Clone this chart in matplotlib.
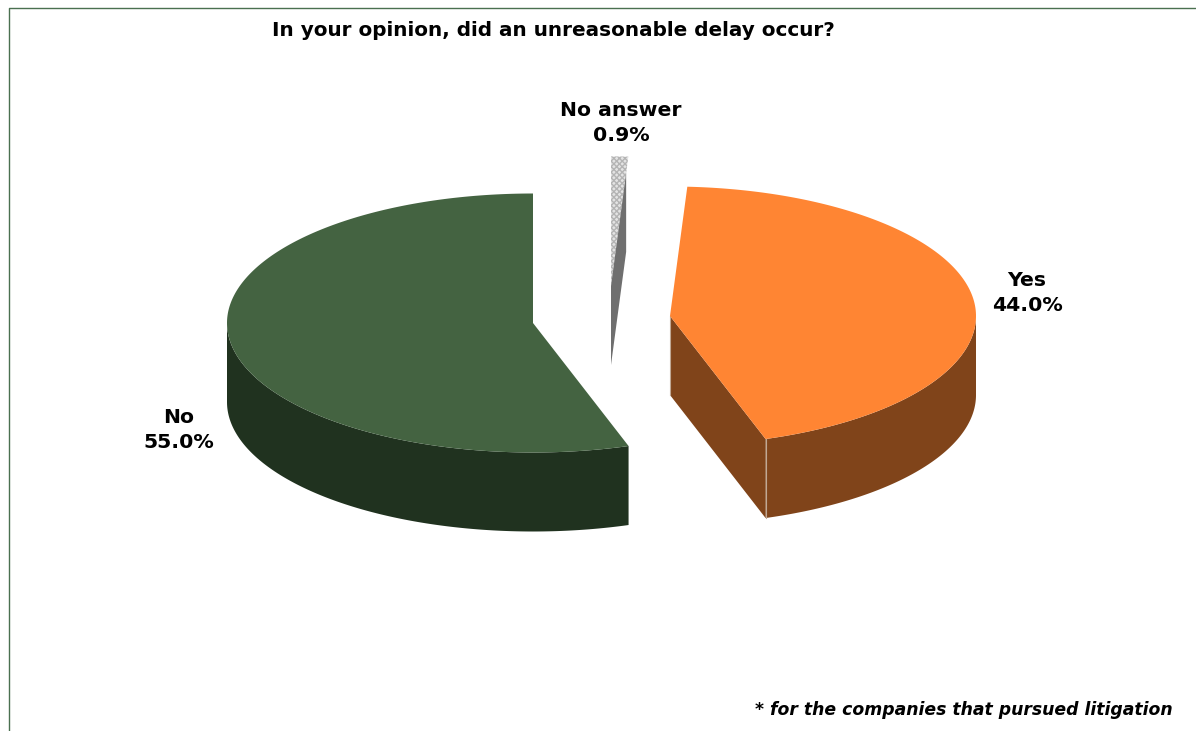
import matplotlib
matplotlib.use('Agg')
import matplotlib.pyplot as plt
import numpy as np

labels = ['No answer', 'Yes', 'No']
values = [0.9, 44.0, 55.0]
colors_top = ['#e4e4e4', '#ff8533', '#446341']
colors_side = ['#6f6f6f', '#80441a', '#20321f']

title = 'In your opinion, did an unreasonable delay occur?'
note = '* for the companies that pursued litigation'

# layout in pixels of the output image
centers = [(611, 286), (670, 316), (533, 323)]
rx, ry, depth = 306, 129.5, 79
label_pos = [(621, 123), (1027, 293), (179, 430)]


def rim(cx, cy, a0, a1, dy=0, frac=1.0):
    # angles are clockwise from 12 o'clock
    t = np.radians(np.linspace(a0, a1, 200))
    return np.column_stack([cx + frac * rx * np.sin(t), cy - frac * ry * np.cos(t) + dy])


fig = plt.figure(figsize=(11.96, 7.31), dpi=100)
ax = fig.add_axes([0, 0, 1, 1])
ax.set_xlim(0, 1196)
ax.set_ylim(731, 0)
ax.axis('off')

# chart frame, only top and left show
ax.plot([8.5, 8.5, 1196], [731, 7.5, 7.5], color='#4a7050', lw=1)

edges = np.concatenate([[0], np.cumsum(values)]) / sum(values) * 360

for i, name in enumerate(labels):
    cx, cy = centers[i]
    a0, a1 = edges[i], edges[i + 1]
    if name == 'No answer':
        # sliver: dotted top with the dark cut face over it
        top = np.vstack([[cx, cy], rim(cx, cy, a0, a1)])
        ax.fill(top[:, 0], top[:, 1], facecolor=colors_top[i],
                edgecolor='#b4b4b4', hatch='xxxxxx', lw=0, zorder=2)
        p = rim(cx, cy, a1, a1, frac=0.875)[0]
        ax.fill([cx, p[0], p[0], cx], [cy, p[1], p[1] + depth, cy + depth],
                color=colors_side[i], lw=0, zorder=3)
        continue
    # outer wall, front half of the ellipse only
    lo, hi = max(a0, 90), min(a1, 270)
    front = rim(cx, cy, lo, hi)
    wall = np.vstack([front, rim(cx, cy, hi, lo, dy=depth)])
    ax.fill(wall[:, 0], wall[:, 1], color=colors_side[i], lw=0, zorder=2)
    if name == 'Yes':
        # cut face towards the viewer
        p = rim(cx, cy, a1, a1)[0]
        ax.fill([cx, p[0], p[0], cx], [cy, p[1], p[1] + depth, cy + depth],
                color=colors_side[i], lw=0, zorder=2)
        ax.plot([p[0], p[0]], [p[1], p[1] + depth], color='#c0a894', lw=0.8, zorder=3)
        ax.plot([cx, cx], [cy, cy + depth], color='#c0a894', lw=0.8, zorder=3)
    top = np.vstack([[cx, cy], rim(cx, cy, a0, a1)])
    ax.fill(top[:, 0], top[:, 1], color=colors_top[i], lw=0, zorder=4)

for name, val, (x, y) in zip(labels, values, label_pos):
    ax.text(x, y, f'{name}\n{val:.1f}%', ha='center', va='center', fontsize=14.7,
            fontweight='bold', linespacing=1.38, color='black', zorder=5)

ax.text(553, 31, title, ha='center', va='center', fontsize=14.4, fontweight='bold')
ax.text(1173, 710, note, ha='right', va='center', fontsize=12.4, fontweight='bold', style='italic')

fig.savefig('out.png', dpi=100)
